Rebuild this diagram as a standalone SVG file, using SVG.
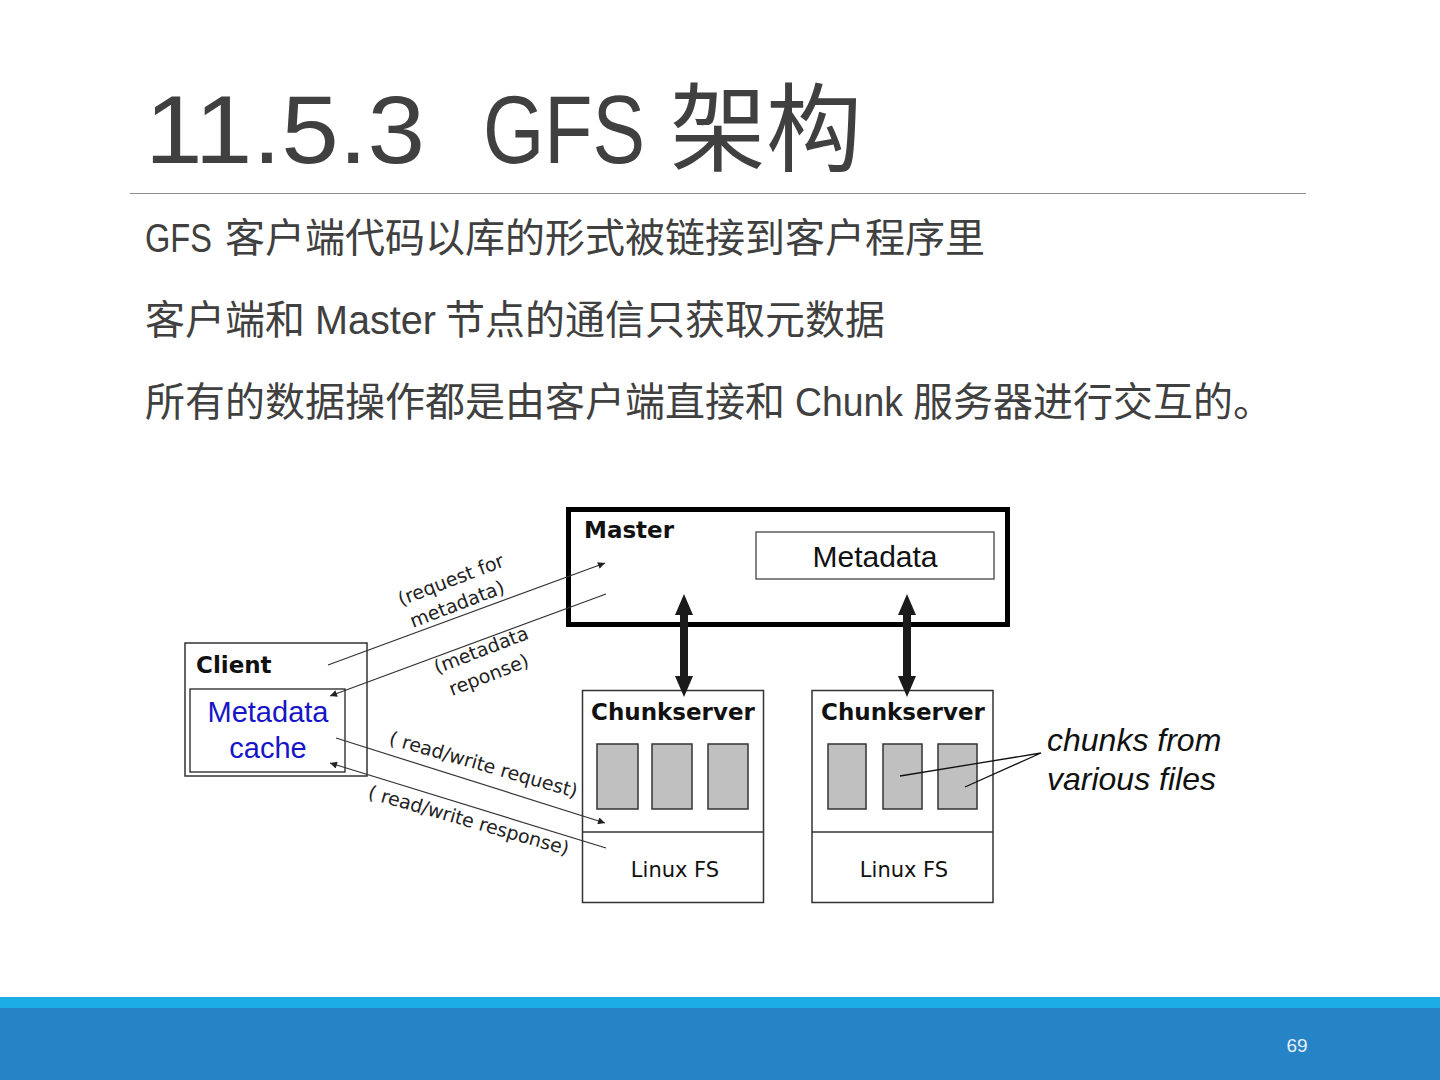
<svg xmlns="http://www.w3.org/2000/svg" width="1440" height="1080" viewBox="0 0 1440 1080">
<defs>
<style>
.ttl{font-family:"Liberation Sans","Noto Sans CJK SC",sans-serif;fill:#404040}
.body{font-family:"Liberation Sans","Noto Sans CJK SC",sans-serif;font-size:40px;fill:#404040}
.cjk{font-family:"Noto Sans CJK SC",sans-serif;font-size:40px;fill:#404040}
.box{fill:#fff;stroke:#333;stroke-width:1.5}
.chunk{fill:#c0c0c0;stroke:#333;stroke-width:1.5}
.bold{font-family:"DejaVu Sans",sans-serif;font-weight:bold;font-size:23px;fill:#111}
.fs{font-family:"DejaVu Sans",sans-serif;font-size:21px;fill:#111;text-anchor:middle}
.lbl{font-family:"DejaVu Sans",sans-serif;font-size:19px;fill:#222}
.conn{stroke:#333;stroke-width:1.2;fill:none}
.ptr{stroke:#111;stroke-width:1.3;fill:none}
.thick{fill:#1a1a1a}
</style>
<marker id="ah" viewBox="0 0 10 10" refX="10" refY="5" markerWidth="9" markerHeight="7" markerUnits="userSpaceOnUse" orient="auto">
<path d="M0,0 L10,5 L0,10 z" fill="#222"/>
</marker>
</defs>
<rect width="1440" height="1080" fill="#fff"/>

<g id="title">
<text class="ttl" x="145" y="163" font-size="96" textLength="280" lengthAdjust="spacingAndGlyphs">11.5.3</text>
<text class="ttl" x="483" y="163" font-size="96" textLength="162" lengthAdjust="spacingAndGlyphs">GFS</text>
<text class="ttl" x="670" y="163" font-size="96" style="font-family:'Noto Sans CJK SC',sans-serif">架构</text>
<line x1="130" y1="193.5" x2="1306" y2="193.5" stroke="#8c8c8c" stroke-width="1"/>
</g>

<g id="bullets">
<text class="body" x="145" y="252" textLength="67" lengthAdjust="spacingAndGlyphs">GFS</text>
<text class="cjk" x="225" y="252">客户端代码以库的形式被链接到客户程序里</text>
<text class="cjk" x="145" y="334">客户端和</text>
<text class="body" x="315" y="334" textLength="121" lengthAdjust="spacingAndGlyphs">Master</text>
<text class="cjk" x="445" y="334">节点的通信只获取元数据</text>
<text class="cjk" x="145" y="416">所有的数据操作都是由客户端直接和</text>
<text class="body" x="795" y="416" textLength="108" lengthAdjust="spacingAndGlyphs">Chunk</text>
<text class="cjk" x="913" y="416">服务器进行交互的。</text>
</g>

<g id="master">
<rect x="568.5" y="509.5" width="439" height="115" fill="#fff" stroke="#000" stroke-width="5"/>
<text class="bold" x="584" y="538">Master</text>
<rect x="756" y="532" width="238" height="47" fill="#fff" stroke="#444" stroke-width="1.3"/>
<text x="875" y="567" text-anchor="middle" font-family="Liberation Sans, sans-serif" font-size="30" fill="#111">Metadata</text>
</g>

<g id="client">
<rect x="185" y="643" width="182" height="133" class="box"/>
<text class="bold" x="196" y="673">Client</text>
<rect x="190" y="689" width="155" height="83" fill="#fff" stroke="#222" stroke-width="1.3"/>
<text x="268" y="722" text-anchor="middle" font-family="Liberation Sans, sans-serif" font-size="29" fill="#1616c8">Metadata</text>
<text x="268" y="758" text-anchor="middle" font-family="Liberation Sans, sans-serif" font-size="29" fill="#1616c8">cache</text>
</g>

<g id="chunkserver1">
<rect x="582.5" y="690.5" width="181" height="212" class="box"/>
<line x1="582.5" y1="832" x2="763.5" y2="832" stroke="#333" stroke-width="1.5"/>
<text class="bold" x="591" y="720">Chunkserver</text>
<rect x="597" y="744" width="41" height="65" class="chunk"/>
<rect x="652" y="744" width="40" height="65" class="chunk"/>
<rect x="708" y="744" width="40" height="65" class="chunk"/>
<text class="fs" x="675" y="877">Linux FS</text>
</g>

<g id="chunkserver2">
<rect x="812" y="690.5" width="181" height="212" class="box"/>
<line x1="812" y1="832" x2="993" y2="832" stroke="#333" stroke-width="1.5"/>
<text class="bold" x="821" y="720">Chunkserver</text>
<rect x="828" y="744" width="38" height="65" class="chunk"/>
<rect x="883" y="744" width="39" height="65" class="chunk"/>
<rect x="938" y="744" width="39" height="65" class="chunk"/>
<text class="fs" x="904" y="877">Linux FS</text>
</g>

<g id="note">
<text x="1047" y="751" font-family="Liberation Sans, sans-serif" font-style="italic" font-size="32" fill="#111">chunks from</text>
<text x="1047" y="790" font-family="Liberation Sans, sans-serif" font-style="italic" font-size="32" fill="#111">various files</text>
</g>

<g id="connectors">
<line class="conn" x1="328" y1="665" x2="605" y2="563" marker-end="url(#ah)"/>
<line class="conn" x1="606" y1="594" x2="330" y2="696" marker-end="url(#ah)"/>
<line class="conn" x1="336" y1="738" x2="605" y2="823" marker-end="url(#ah)"/>
<line class="conn" x1="606" y1="848" x2="330" y2="763" marker-end="url(#ah)"/>
<path class="thick" d="M684,594 L693,615 L688,615 L688,676 L693,676 L684,697 L675,676 L680,676 L680,615 L675,615 Z"/>
<path class="thick" d="M907,594 L916,615 L911,615 L911,676 L916,676 L907,697 L898,676 L903,676 L903,615 L898,615 Z"/>
<polyline class="ptr" points="900,776 1041,753 965,787"/>
<text class="lbl" transform="translate(401,606) rotate(-21)">(request for</text>
<text class="lbl" transform="translate(413,628) rotate(-21)">metadata)</text>
<text class="lbl" transform="translate(437,674) rotate(-21)">(metadata</text>
<text class="lbl" transform="translate(452,696) rotate(-21)">reponse)</text>
<text class="lbl" transform="translate(388,744) rotate(16)" textLength="195">( read/write request)</text>
<text class="lbl" transform="translate(367,798) rotate(16)" textLength="208">( read/write response)</text>
</g>

<g id="footer">
<rect x="0" y="997" width="1440" height="12" fill="#1cade4"/>
<rect x="0" y="1008" width="1440" height="72" fill="#2683c6"/>
<text x="1297" y="1052" text-anchor="middle" font-family="Liberation Sans, sans-serif" font-size="19" fill="#e6f0fa">69</text>
</g>
</svg>
